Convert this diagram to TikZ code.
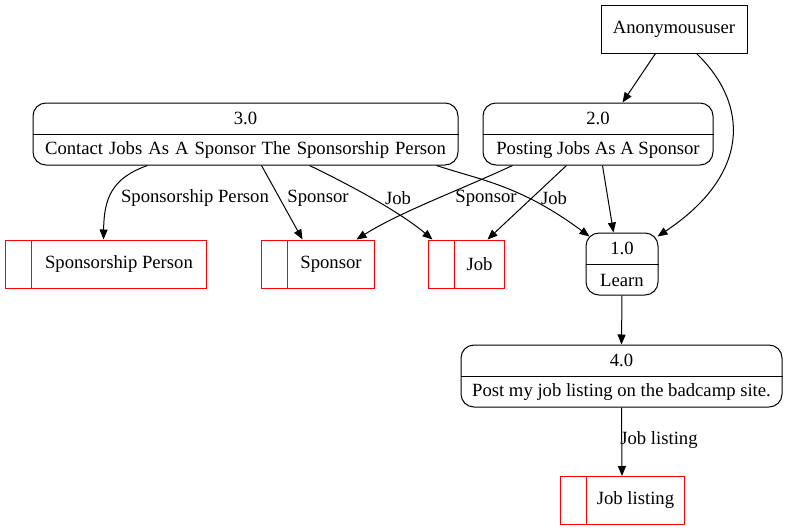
\documentclass[tikz,border=0pt]{standalone}
\usepackage{fontspec}
\setmainfont{Liberation Serif}
\usetikzlibrary{arrows.meta,calc}
\begin{document}
\begin{tikzpicture}[x=1pt,y=-1pt,
  every node/.style={font=\rmfamily\fontsize{18.67}{22}\selectfont},
  proc/.style={draw, line width=1pt, rounded corners=13pt, inner sep=0pt},
  store/.style={draw=red, line width=1pt, inner sep=0pt, minimum height=48pt},
  ent/.style={draw, line width=1pt, inner sep=0pt},
  txt/.style={inner sep=0pt},
  flow/.style={draw, line width=1pt, -{Triangle[length=10pt,width=8pt]}}]
\useasboundingbox (0,0) rectangle (788,531);

% external entity
\node[ent, minimum width=146pt, minimum height=48pt] (anon) at (674,29) {};
\node[txt] (anont) at (anon.center) {Anonymoususer};

% processes
\node[proc, minimum width=425pt, minimum height=62pt] (p3) at (245.5,134) {};
\draw[line width=1pt] (p3.west) -- (p3.east);
\node[txt] (p3a) at ($(p3.center)+(0,-15.5)$) {3.0};
\node[txt] (p3b) at ($(p3.center)+(0,16)$) {\spaceskip=6pt plus 1pt Contact Jobs As A Sponsor The Sponsorship Person};

\node[proc, minimum width=230pt, minimum height=62pt] (p2) at (598,134) {};
\draw[line width=1pt] (p2.west) -- (p2.east);
\node[txt] (p2a) at ($(p2.center)+(0,-15.5)$) {2.0};
\node[txt] (p2b) at ($(p2.center)+(0,16)$) {Posting Jobs As A Sponsor};

\node[proc, minimum width=72pt, minimum height=62pt] (p1) at (622,264) {};
\draw[line width=1pt] (p1.west) -- (p1.east);
\node[txt] (p1a) at ($(p1.center)+(0,-15.5)$) {1.0};
\node[txt] (p1b) at ($(p1.center)+(0,16)$) {Learn};

\node[proc, minimum width=321pt, minimum height=62pt] (p4) at (621.5,376) {};
\draw[line width=1pt] (p4.west) -- (p4.east);
\node[txt] (p4a) at ($(p4.center)+(0,-15.5)$) {4.0};
\node[txt] (p4b) at ($(p4.center)+(0,16)$) {Post my job listing on the badcamp site.};

% data stores
\node[store, minimum width=201pt] (sp) at (105.5,264) {};
\draw[red, line width=1pt] ($(sp.north west)+(27,0)$) -- ($(sp.south west)+(27,0)$);
\node[txt] (spt) at ($(sp.center)+(13.5,0)$) {Sponsorship Person};

\node[store, minimum width=113pt] (sn) at (317.5,264) {};
\draw[red, line width=1pt] ($(sn.north west)+(27,0)$) -- ($(sn.south west)+(27,0)$);
\node[txt] (snt) at ($(sn.center)+(13.5,0)$) {Sponsor};

\node[store, minimum width=76pt] (jb) at (466,264) {};
\draw[red, line width=1pt] ($(jb.north west)+(27,0)$) -- ($(jb.south west)+(27,0)$);
\node[txt] (jbt) at ($(jb.center)+(13.5,0)$) {Job};

\node[store, minimum width=124pt] (jl) at (622,500.5) {};
\draw[red, line width=1pt] ($(jl.north west)+(27,0)$) -- ($(jl.south west)+(27,0)$);
\node[txt] (jlt) at ($(jl.center)+(13.5,0)$) {Job listing};

% flows
\draw[flow] ($(anon.south west)+(55,0)$) -- ($(p2.north west)+(140,0)$);
\draw[flow] ($(anon.south west)+(96,0)$) .. controls (750,105) and (750,175) .. ($(p1.north east)+(-1,4)$);

\draw[flow] ($(p2.south west)+(120,0)$) -- ($(p1.north west)+(28,0)$);
\draw[flow] ($(p2.south west)+(84,0)$) -- ($(jb.north west)+(60,0)$);
\draw[flow] ($(p2.south west)+(30,0)$) .. controls (460,190) and (400,212) .. ($(sn.north west)+(96,0)$);

\draw[flow] ($(p3.south west)+(115,0)$) .. controls (112,178) and (104,198) .. ($(sp.north west)+(99,0)$);
\draw[flow] ($(p3.south west)+(229,0)$) -- ($(sn.north west)+(42,0)$);
\draw[flow] ($(p3.south west)+(277,0)$) .. controls (350,185) and (400,212) .. ($(jb.north west)+(5,0)$);
\draw[flow] ($(p3.south west)+(404,0)$) .. controls (480,180) and (520,185) .. ($(p1.north west)+(4,4)$);

\draw[flow] (p1.south) -- (p4.north);
\draw[flow] (p4.south) -- (jl.north);

% flow labels
\node[txt] (l1) at (195,198) {Sponsorship Person};
\node[txt] (l2) at (318,198) {Sponsor};
\node[txt] (l3) at (398,198) {Job};
\node[txt] (l4) at (486,198) {Sponsor};
\node[txt] (l5) at (554,198) {Job};
\node[txt] (l6) at (659,440) {Job listing};
\end{tikzpicture}
\end{document}
